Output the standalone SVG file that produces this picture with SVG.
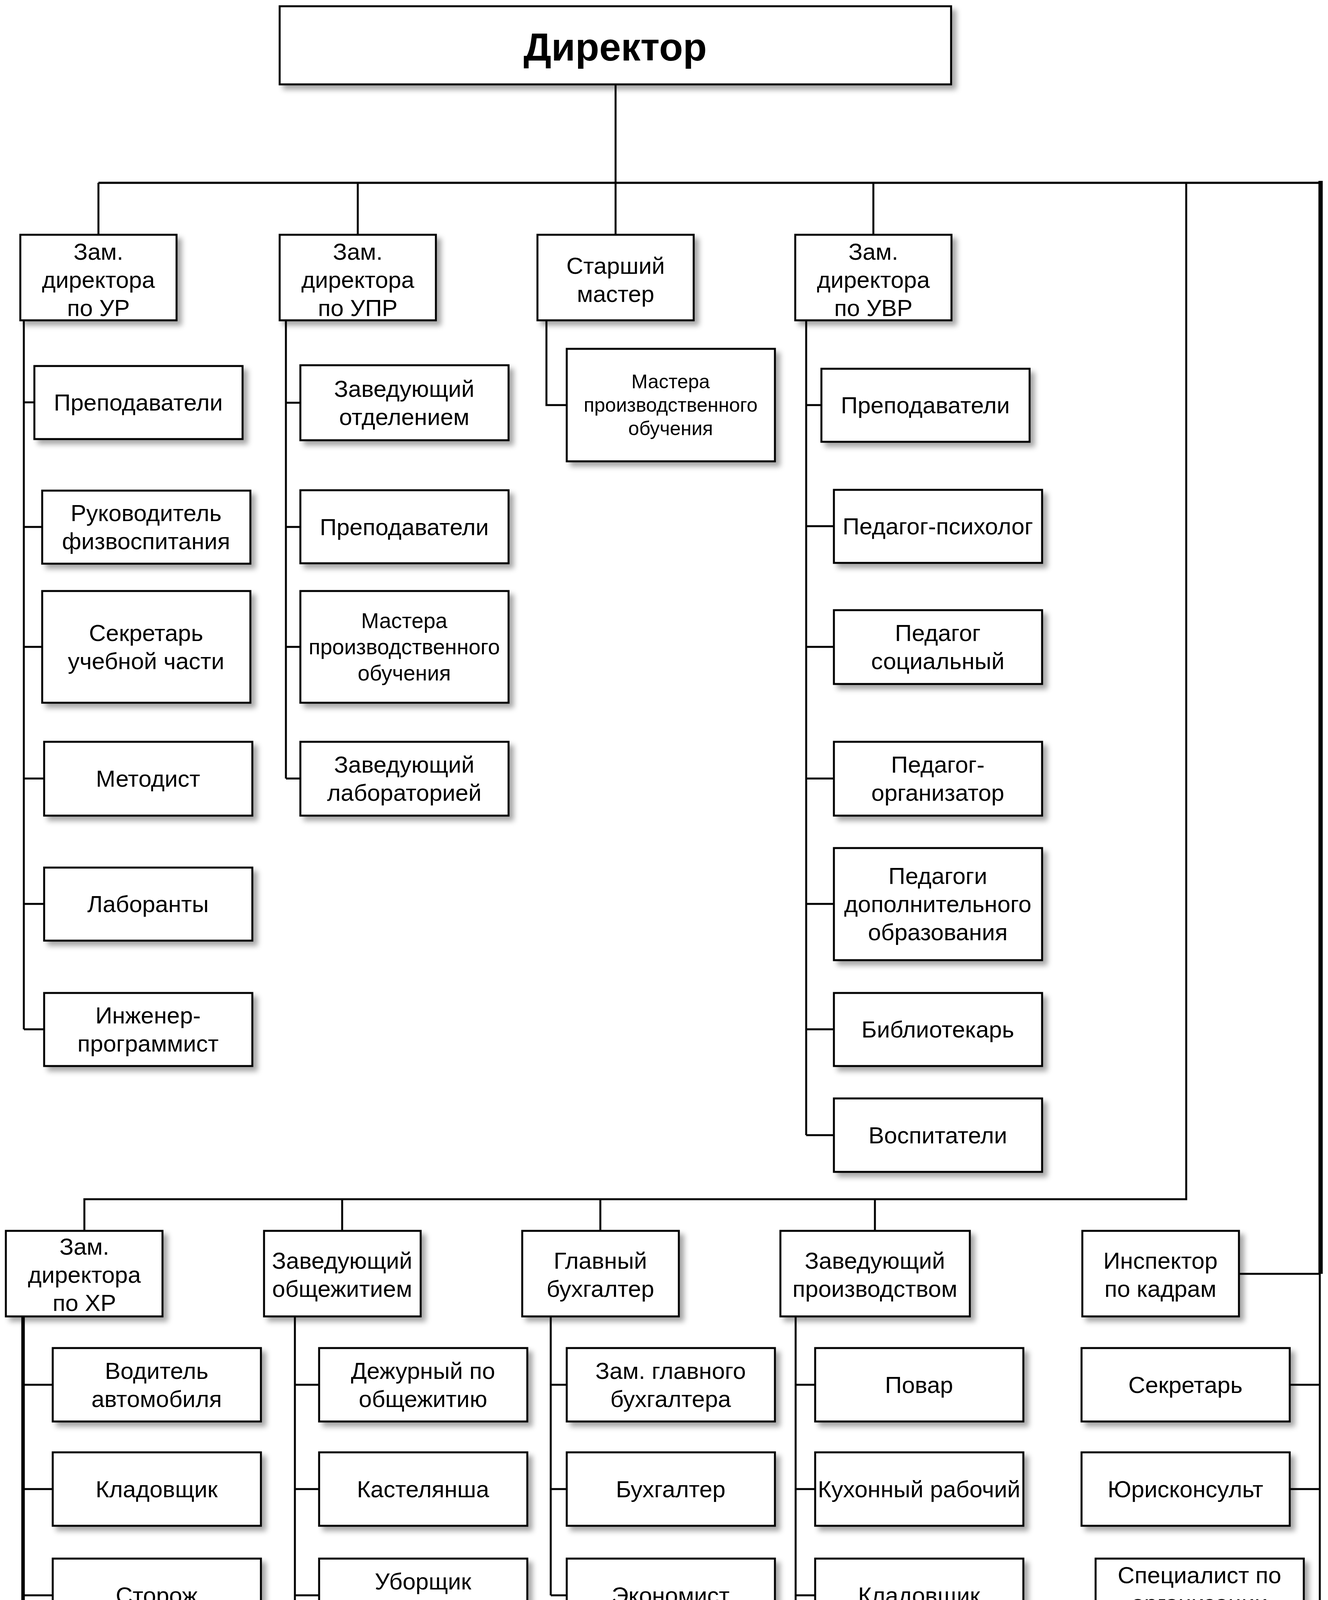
<svg xmlns="http://www.w3.org/2000/svg" width="3400" height="5125" viewBox="0 0 3400 5125">
<defs>
<filter id="sh" x="-10%" y="-10%" width="130%" height="140%">
<feDropShadow dx="11" dy="11" stdDeviation="7" flood-color="#000" flood-opacity="0.35"/>
</filter>
<style>
.b{fill:#fff;stroke:#000;stroke-width:5;filter:url(#sh)}
.t{font-family:"Liberation Sans",Arial,sans-serif;font-size:60px;text-anchor:middle;dominant-baseline:central;fill:#000}
.m{font-size:55px}
.s{font-size:50px}
.d{font-size:100px;font-weight:bold}
.c{stroke:#000;stroke-width:5;fill:none}
.k{stroke-width:9}
.kk{stroke-width:11}
</style>
</defs>
<rect width="3400" height="5125" fill="#fff"/>
<g id="connectors">
<path class="c" d="M1576 216V468"/>
<path class="c" style="stroke-width:5.5" d="M252 468H3381"/>
<path class="c kk" d="M3381 463V3261"/>
<path class="c" d="M3379 3261V4607"/>
<path class="c" d="M252 468V601M916 468V601M1576 468V601M2236 468V601"/>
<path class="c" d="M3037 468V3070H216V3151M876 3070V3151M1537 3070V3151M2240 3070V3151"/>
<path class="c" d="M61 820V2635M61 1030H88M61 1349H108M61 1656H108M61 1993H113M61 2314H113M61 2635H113"/>
<path class="c" d="M732 820V1993M732 1031H769M732 1349H769M732 1656H769M732 1993H769"/>
<path class="c" d="M1399 820V1037H1451"/>
<path class="c" d="M2064 820V2906M2064 1037H2103M2064 1347H2135M2064 1656H2135M2064 1993H2135M2064 2314H2135M2064 2635H2135M2064 2906H2135"/>
<path class="c k" d="M59 3370V5109"/>
<path class="c" d="M59 5105H2236M1012 5005V5105M1624 5005V5105M2236 5005V5105"/>
<path class="c" d="M59 3545H135M59 3812H135M59 4084H135M59 4346H135M59 4607H135M59 4911H135"/>
<path class="c" d="M755 3370V4346M755 3545H817M755 3812H817M755 4084H817M755 4346H817"/>
<path class="c" d="M1410 3370V4084M1410 3545H1451M1410 3812H1451M1410 4084H1451"/>
<path class="c" d="M2037 3370V4607M2037 3545H2087M2037 3812H2087M2037 4084H2087M2037 4346H2087M2037 4607H2087"/>
<path class="c" d="M3172 3261H3379M3302 3545H3379M3302 3812H3379M3338 4104H3379M3338 4346H3379M3338 4607H3379"/>
</g>
<g id="director"><rect class="b" x="716" y="16" width="1719" height="200"/><text class="t d" x="1575" y="120">Директор</text></g>
<g id="zam_ur"><rect class="b" x="52" y="601" width="400" height="219"/><text class="t" x="252" y="644">Зам.<tspan x="252" dy="72">директора</tspan><tspan x="252" dy="72">по УР</tspan></text></g>
<g id="zam_upr"><rect class="b" x="716" y="601" width="400" height="219"/><text class="t" x="916" y="644">Зам.<tspan x="916" dy="72">директора</tspan><tspan x="916" dy="72">по УПР</tspan></text></g>
<g id="st_master"><rect class="b" x="1376" y="601" width="400" height="219"/><text class="t" x="1576" y="680">Старший<tspan x="1576" dy="72">мастер</tspan></text></g>
<g id="zam_uvr"><rect class="b" x="2036" y="601" width="400" height="219"/><text class="t" x="2236" y="644">Зам.<tspan x="2236" dy="72">директора</tspan><tspan x="2236" dy="72">по УВР</tspan></text></g>
<g id="ur_prep"><rect class="b" x="88" y="937" width="533" height="187"/><text class="t" x="354" y="1030">Преподаватели</text></g>
<g id="ur_ruk"><rect class="b" x="108" y="1256" width="533" height="187"/><text class="t" x="374" y="1313">Руководитель<tspan x="374" dy="72">физвоспитания</tspan></text></g>
<g id="ur_sekr"><rect class="b" x="108" y="1513" width="533" height="286"/><text class="t" x="374" y="1620">Секретарь<tspan x="374" dy="72">учебной части</tspan></text></g>
<g id="ur_metod"><rect class="b" x="113" y="1899" width="533" height="189"/><text class="t" x="379" y="1993">Методист</text></g>
<g id="ur_lab"><rect class="b" x="113" y="2221" width="533" height="187"/><text class="t" x="379" y="2314">Лаборанты</text></g>
<g id="ur_ing"><rect class="b" x="113" y="2542" width="533" height="187"/><text class="t" x="379" y="2599">Инженер-<tspan x="379" dy="72">программист</tspan></text></g>
<g id="upr_zav"><rect class="b" x="769" y="935" width="533" height="192"/><text class="t" x="1035" y="995">Заведующий<tspan x="1035" dy="72">отделением</tspan></text></g>
<g id="upr_prep"><rect class="b" x="769" y="1255" width="533" height="187"/><text class="t" x="1035" y="1349">Преподаватели</text></g>
<g id="upr_master"><rect class="b" x="769" y="1513" width="533" height="286"/><text class="t m" x="1035" y="1589">Мастера<tspan x="1035" dy="67">производственного</tspan><tspan x="1035" dy="67">обучения</tspan></text></g>
<g id="upr_lab"><rect class="b" x="769" y="1899" width="533" height="189"/><text class="t" x="1035" y="1957">Заведующий<tspan x="1035" dy="72">лабораторией</tspan></text></g>
<g id="sm_master"><rect class="b" x="1451" y="893" width="533" height="288"/><text class="t s" x="1717" y="977">Мастера<tspan x="1717" dy="60">производственного</tspan><tspan x="1717" dy="60">обучения</tspan></text></g>
<g id="uvr_prep"><rect class="b" x="2103" y="944" width="533" height="187"/><text class="t" x="2369" y="1037">Преподаватели</text></g>
<g id="uvr_psych"><rect class="b" x="2135" y="1254" width="533" height="187"/><text class="t" x="2401" y="1347">Педагог-психолог</text></g>
<g id="uvr_soc"><rect class="b" x="2135" y="1562" width="533" height="189"/><text class="t" x="2401" y="1620">Педагог<tspan x="2401" dy="72">социальный</tspan></text></g>
<g id="uvr_org"><rect class="b" x="2135" y="1899" width="533" height="189"/><text class="t" x="2401" y="1957">Педагог-<tspan x="2401" dy="72">организатор</tspan></text></g>
<g id="uvr_dop"><rect class="b" x="2135" y="2171" width="533" height="287"/><text class="t" x="2401" y="2242">Педагоги<tspan x="2401" dy="72">дополнительного</tspan><tspan x="2401" dy="72">образования</tspan></text></g>
<g id="uvr_bib"><rect class="b" x="2135" y="2542" width="533" height="187"/><text class="t" x="2401" y="2635">Библиотекарь</text></g>
<g id="uvr_vosp"><rect class="b" x="2135" y="2812" width="533" height="188"/><text class="t" x="2401" y="2906">Воспитатели</text></g>
<g id="zam_hr"><rect class="b" x="15" y="3151" width="401" height="219"/><text class="t" x="216" y="3191">Зам.<tspan x="216" dy="72">директора</tspan><tspan x="216" dy="72">по ХР</tspan></text></g>
<g id="zav_obsh"><rect class="b" x="676" y="3151" width="401" height="219"/><text class="t" x="876" y="3227">Заведующий<tspan x="876" dy="72">общежитием</tspan></text></g>
<g id="gl_buh"><rect class="b" x="1337" y="3151" width="401" height="219"/><text class="t" x="1537" y="3227">Главный<tspan x="1537" dy="72">бухгалтер</tspan></text></g>
<g id="zav_proizv"><rect class="b" x="1998" y="3151" width="485" height="219"/><text class="t" x="2240" y="3227">Заведующий<tspan x="2240" dy="72">производством</tspan></text></g>
<g id="insp"><rect class="b" x="2771" y="3151" width="401" height="219"/><text class="t" x="2971" y="3227">Инспектор<tspan x="2971" dy="72">по кадрам</tspan></text></g>
<g id="hr_vod"><rect class="b" x="135" y="3451" width="533" height="188"/><text class="t" x="401" y="3509">Водитель<tspan x="401" dy="72">автомобиля</tspan></text></g>
<g id="hr_klad"><rect class="b" x="135" y="3718" width="533" height="188"/><text class="t" x="401" y="3812">Кладовщик</text></g>
<g id="hr_stor"><rect class="b" x="135" y="3990" width="533" height="189"/><text class="t" x="401" y="4084">Сторож</text></g>
<g id="hr_ubor"><rect class="b" x="135" y="4252" width="533" height="188"/><text class="t" x="401" y="4310">Уборщик<tspan x="401" dy="72">помещений</tspan></text></g>
<g id="hr_rab"><rect class="b" x="135" y="4513" width="533" height="188"/><text class="t" x="401" y="4571">Рабочий по<tspan x="401" dy="72">КОиРЗиС</tspan></text></g>
<g id="hr_el"><rect class="b" x="135" y="4818" width="533" height="187"/><text class="t" x="401" y="4911">Слесарь-электрик</text></g>
<g id="hr_gard"><rect class="b" x="746" y="4818" width="533" height="187"/><text class="t" x="1012" y="4911">Гардеробщик</text></g>
<g id="hr_kom"><rect class="b" x="1358" y="4818" width="533" height="187"/><text class="t" x="1624" y="4911">Комендант</text></g>
<g id="hr_sant"><rect class="b" x="1969" y="4818" width="533" height="187"/><text class="t" x="2235" y="4875">Слесарь-<tspan x="2235" dy="72">сантехник</tspan></text></g>
<g id="ob_dez"><rect class="b" x="817" y="3451" width="533" height="188"/><text class="t" x="1083" y="3509">Дежурный по<tspan x="1083" dy="72">общежитию</tspan></text></g>
<g id="ob_kast"><rect class="b" x="817" y="3718" width="533" height="188"/><text class="t" x="1083" y="3812">Кастелянша</text></g>
<g id="ob_ubp"><rect class="b" x="817" y="3990" width="533" height="189"/><text class="t" x="1083" y="4048">Уборщик<tspan x="1083" dy="72">помещений</tspan></text></g>
<g id="ob_ubt"><rect class="b" x="817" y="4252" width="533" height="188"/><text class="t" x="1083" y="4310">Уборщик<tspan x="1083" dy="72">территории</tspan></text></g>
<g id="bu_zam"><rect class="b" x="1451" y="3451" width="533" height="188"/><text class="t" x="1717" y="3509">Зам. главного<tspan x="1717" dy="72">бухгалтера</tspan></text></g>
<g id="bu_buh"><rect class="b" x="1451" y="3718" width="533" height="188"/><text class="t" x="1717" y="3812">Бухгалтер</text></g>
<g id="bu_econ"><rect class="b" x="1451" y="3990" width="533" height="189"/><text class="t" x="1717" y="4084">Экономист</text></g>
<g id="pr_povar"><rect class="b" x="2087" y="3451" width="533" height="188"/><text class="t" x="2353" y="3545">Повар</text></g>
<g id="pr_kuh"><rect class="b" x="2087" y="3718" width="533" height="188"/><text class="t" x="2353" y="3812">Кухонный рабочий</text></g>
<g id="pr_klad"><rect class="b" x="2087" y="3990" width="533" height="189"/><text class="t" x="2353" y="4084">Кладовщик</text></g>
<g id="pr_ubor"><rect class="b" x="2087" y="4252" width="533" height="188"/><text class="t" x="2353" y="4310">Уборщик<tspan x="2353" dy="72">помещений</tspan></text></g>
<g id="pr_prod"><rect class="b" x="2087" y="4513" width="533" height="188"/><text class="t" x="2353" y="4607">Продавец</text></g>
<g id="in_sekr"><rect class="b" x="2769" y="3451" width="533" height="188"/><text class="t" x="3035" y="3545">Секретарь</text></g>
<g id="in_jur"><rect class="b" x="2769" y="3718" width="533" height="188"/><text class="t" x="3035" y="3812">Юрисконсульт</text></g>
<g id="in_spec"><rect class="b" x="2805" y="3990" width="533" height="228"/><text class="t" x="3071" y="4032">Специалист по<tspan x="3071" dy="72">организации</tspan><tspan x="3071" dy="72">закупок</tspan></text></g>
<g id="in_pasp"><rect class="b" x="2805" y="4252" width="533" height="188"/><text class="t" x="3071" y="4346">Паспортист</text></g>
<g id="in_meh"><rect class="b" x="2805" y="4513" width="533" height="188"/><text class="t" x="3071" y="4607">Механик</text></g>
</svg>
